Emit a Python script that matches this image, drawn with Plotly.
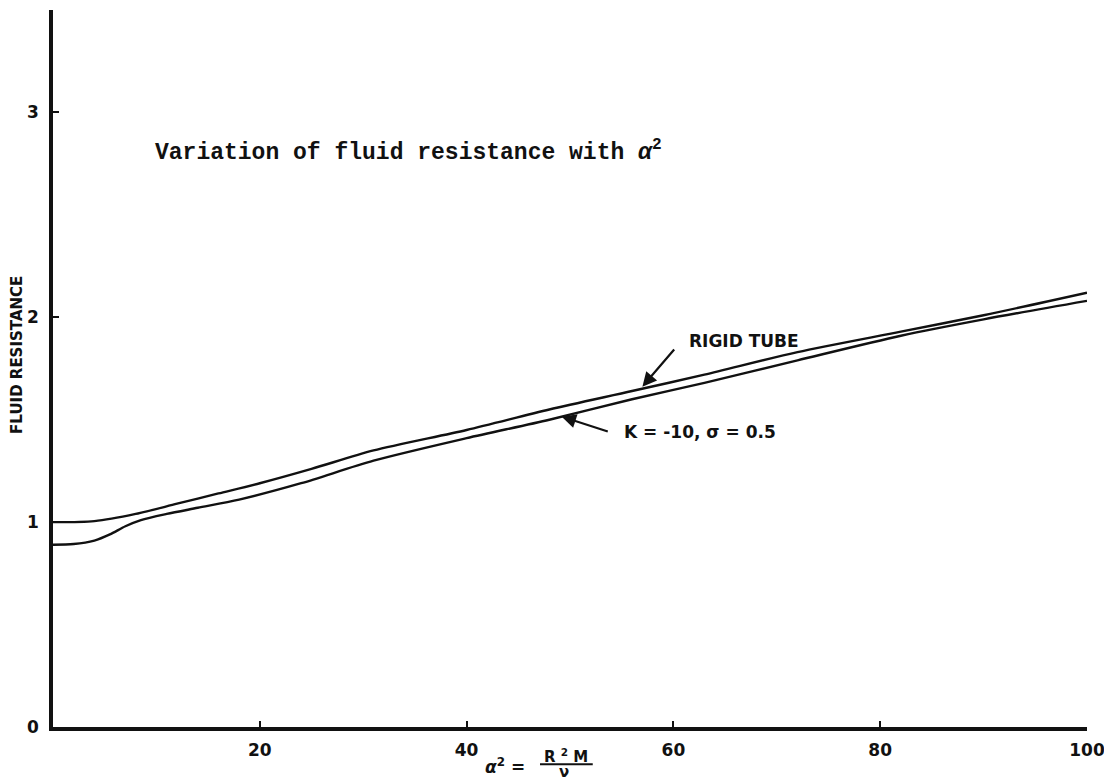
import numpy as np
import plotly.graph_objects as go

# ---- data ----
alpha_sq_rigid = [0, 4, 8, 12, 16, 20, 25, 31, 40, 48, 56, 63, 72, 82, 90, 100]
resist_rigid = [1.00, 1.005, 1.04, 1.09, 1.14, 1.19, 1.26, 1.35, 1.45, 1.55, 1.64, 1.72, 1.83, 1.93, 2.01, 2.12]

alpha_sq_elastic = [0, 2, 4, 5.5, 7, 8.5, 11, 14, 18, 24, 31, 40, 48, 56, 63, 72, 82, 90, 100]
resist_elastic = [0.89, 0.893, 0.91, 0.94, 0.98, 1.01, 1.04, 1.07, 1.11, 1.19, 1.30, 1.41, 1.50,
                  1.60, 1.68, 1.79, 1.91, 1.99, 2.08]

x_tick_vals = [20, 40, 60, 80, 100]
y_tick_vals = [0, 1, 2, 3]

label_rigid = "RIGID TUBE"
label_elastic = "K = -10, σ = 0.5"
title_text = "Variation of fluid resistance with <i>α</i><sup>2</sup>"
y_title = "FLUID RESISTANCE"

LET = "DejaVu Sans"
MONO = "Liberation Mono"
INK = "#111"

fig = go.Figure()
fig.add_trace(go.Scatter(x=alpha_sq_rigid, y=resist_rigid, mode="lines",
                         line=dict(color=INK, width=2.4, shape="spline", smoothing=0.8),
                         name=label_rigid, showlegend=False))
fig.add_trace(go.Scatter(x=alpha_sq_elastic, y=resist_elastic, mode="lines",
                         line=dict(color=INK, width=2.4, shape="spline", smoothing=0.8),
                         name=label_elastic, showlegend=False))

# arrow heads located on the curves
xa_r = 57.0
ya_r = float(np.interp(xa_r, alpha_sq_rigid, resist_rigid))
xa_e = 49.2
ya_e = float(np.interp(xa_e, alpha_sq_elastic, resist_elastic))

fig.add_annotation(x=xa_r, y=ya_r + 0.01, ax=60.2, ay=1.85, xref="x", yref="y", axref="x", ayref="y",
                   text="", showarrow=True, arrowhead=2, arrowsize=1.3, arrowwidth=2.2, arrowcolor=INK)
fig.add_annotation(x=66.8, y=1.885, xref="x", yref="y", text=label_rigid, showarrow=False,
                   font=dict(family=LET, size=17, color=INK, weight="bold"))
fig.add_annotation(x=xa_e, y=ya_e, ax=53.8, ay=1.44, xref="x", yref="y", axref="x", ayref="y",
                   text="", showarrow=True, arrowhead=2, arrowsize=1.3, arrowwidth=2.2, arrowcolor=INK)
fig.add_annotation(x=55.0, y=1.44, xref="x", yref="y", xanchor="left", text=label_elastic,
                   showarrow=False, font=dict(family=LET, size=17, color=INK, weight="bold"))

# chart caption
fig.add_annotation(x=9.7, y=2.81, xref="x", yref="y", xanchor="left", yanchor="middle",
                   text=title_text, showarrow=False,
                   font=dict(family=MONO, size=23, color=INK, weight="bold"))

# y axis title
fig.add_annotation(x=0, y=0.519, xref="paper", yref="paper", xanchor="center", yanchor="middle",
                   xshift=-36, textangle=-90, text=y_title, showarrow=False,
                   font=dict(family=LET, size=15, color=INK, weight="bold"))

# x axis title (fraction)
fig.add_annotation(x=41.6, y=0, xref="x", yref="paper", xanchor="left", yanchor="middle",
                   yshift=-39, text="<i>α</i><sup>2</sup> =", showarrow=False,
                   font=dict(family=LET, size=17, color=INK, weight="bold"))
fig.add_annotation(x=49.6, y=0, xref="x", yref="paper", xanchor="center", yanchor="middle",
                   yshift=-29, text="R <sup>2</sup> M", showarrow=False,
                   font=dict(family=LET, size=15, color=INK, weight="bold"))
fig.add_annotation(x=49.4, y=0, xref="x", yref="paper", xanchor="center", yanchor="middle",
                   yshift=-45, text="ν", showarrow=False,
                   font=dict(family=LET, size=15, color=INK, weight="bold"))
fig.add_shape(type="line", xref="x", yref="paper", x0=47.1, x1=52.2, y0=-0.052, y1=-0.052,
              line=dict(color=INK, width=2))

fig.update_xaxes(range=[0, 100], tickvals=x_tick_vals, ticks="inside", ticklen=6, tickwidth=2,
                 tickcolor=INK, showline=True, linecolor=INK, linewidth=3.5, showgrid=False,
                 zeroline=False, ticklabelstandoff=5,
                 tickfont=dict(family=LET, size=17, color=INK, weight="bold"))
fig.update_yaxes(range=[0, 3.5], tickvals=y_tick_vals, ticks="inside", ticklen=6, tickwidth=2,
                 tickcolor=INK, showline=True, linecolor=INK, linewidth=3.5, showgrid=False,
                 zeroline=False, ticklabelstandoff=7,
                 tickfont=dict(family=LET, size=17, color=INK, weight="bold"))

# the page body has an 8px default margin; size the figure so the plot lands where the reference's does
fig.update_layout(width=1104, height=774, margin=dict(l=45, r=25, t=2, b=55, autoexpand=False),
                  plot_bgcolor="white", paper_bgcolor="white")

fig.write_html("out.html")
